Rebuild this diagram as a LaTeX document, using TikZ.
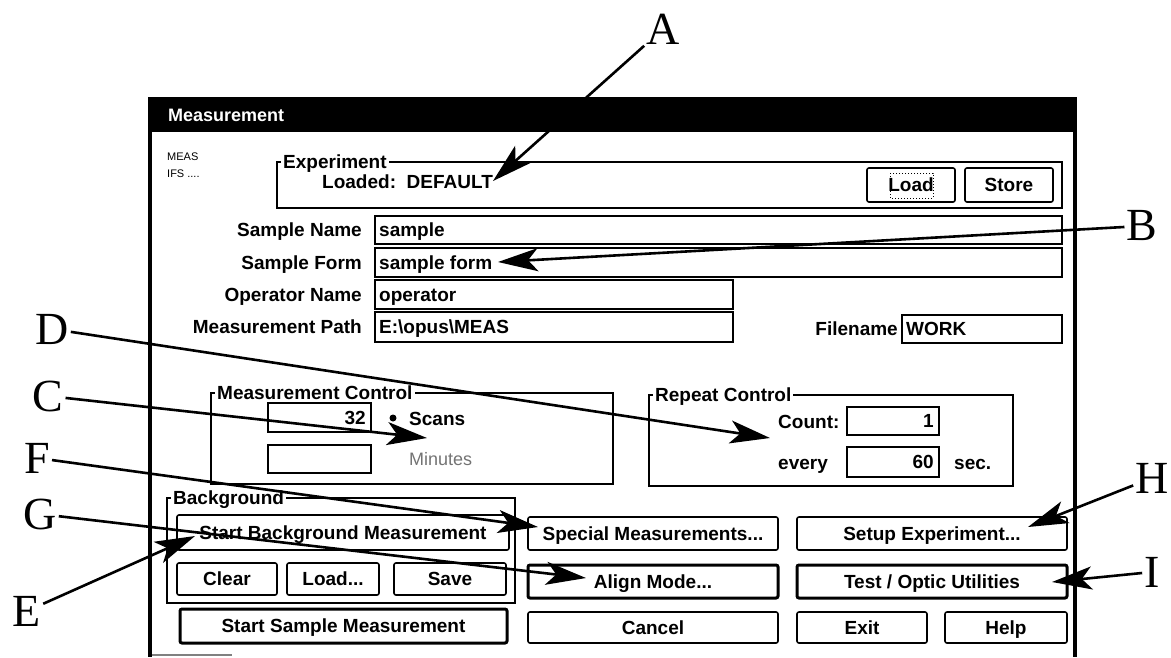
\documentclass[tikz,border=0pt]{standalone}
\usepackage{fontspec}
\newfontfamily\uifont{Liberation Sans}
\newfontfamily\callfont{Liberation Serif}
\usetikzlibrary{arrows.meta}

% rectangle node given by its corners: style, name, x1, y1, x2, y2, text
\newcommand{\uibox}[7]{%
  \node[#1, minimum width={(#5-#3)*1pt}, minimum height={(#6-#4)*1pt}]
    (#2) at ({(#3+#5)/2},{(#4+#6)/2}) {#7};}

\tikzset{
  ui/.style={font=\uifont\bfseries\fontsize{19}{22}\selectfont,
    inner sep=0pt, text height=13.6pt, text depth=0pt},
  small/.style={font=\uifont\fontsize{11}{13}\selectfont,
    inner sep=0pt, anchor=west},
  field/.style={draw, line width=1.2pt, inner sep=0pt},
  btn/.style={ui, draw, line width=1.6pt, rounded corners=2pt},
  btnheavy/.style={btn, line width=3pt},
  frame/.style={draw, line width=1.2pt},
  grouplabel/.style={ui, fill=white, inner xsep=2pt, anchor=west},
  callout/.style={font=\callfont\fontsize{46}{50}\selectfont, inner sep=2pt},
  conn/.style={line width=2.6pt, -{Stealth[length=40pt,width=23pt,inset=10pt]}},
}

\begin{document}
\begin{tikzpicture}[x=1pt,y=-1pt]
\useasboundingbox (0,0) rectangle (1171,657);

% window frame and title bar
\fill (150,97) rectangle (1075,132);
\node[ui, white, anchor=west, font=\uifont\bfseries\fontsize{18}{20}\selectfont] (title) at (168,115) {Measurement};
\draw[line width=4pt] (150,97) -- (150,657);
\draw[line width=4pt] (1075,97) -- (1075,657);
\draw[gray, line width=1.5pt] (152,655) -- (232,655);

% file info
\node[small] (meas) at (167,157) {MEAS};
\node[small] (ifs) at (167,174) {IFS ....};

% experiment group
\draw[frame] (277,162) rectangle (1062,208);
\node[grouplabel] (expl) at (281,162) {Experiment};
\node[ui, anchor=west] (loaded) at (322,182) {Loaded:\ \ DEFAULT};
\uibox{btn}{bLoad}{867}{168}{955}{202}{Load}
\draw[dotted, line width=1pt] (890,173) rectangle (933,198);
\uibox{btn}{bStore}{965}{168}{1053}{202}{Store}

% sample fields
\uibox{field}{fName}{375}{216}{1062}{244}{}
\node[ui, anchor=east] (lName) at (362,230) {Sample Name};
\node[ui, anchor=west] (vName) at (379,230) {sample};
\uibox{field}{fForm}{375}{248}{1062}{277}{}
\node[ui, anchor=east] (lForm) at (362,262.5) {Sample Form};
\node[ui, anchor=west] (vForm) at (379,262.5) {sample form};
\uibox{field}{fOper}{375}{280}{733}{309}{}
\node[ui, anchor=east] (lOper) at (362,294.5) {Operator Name};
\node[ui, anchor=west] (vOper) at (379,294.5) {operator};
\uibox{field}{fPath}{375}{312}{733}{342}{}
\node[ui, anchor=east] (lPath) at (362,327) {Measurement Path};
\node[ui, anchor=west] (vPath) at (379,327) {E:\textbackslash opus\textbackslash MEAS};
\uibox{field}{fFile}{902}{315}{1062}{343}{}
\node[ui, anchor=east] (lFile) at (898,329) {Filename};
\node[ui, anchor=west] (vFile) at (906,329) {WORK};

% measurement control group
\draw[frame] (211,393) rectangle (613,484);
\node[grouplabel] (mcl) at (215,393) {Measurement Control};
\uibox{field}{fScans}{268}{403}{371}{432}{}
\node[ui, anchor=east] (vScans) at (366,417.5) {32};
\fill (393,418) circle (3.5pt);
\node[ui, anchor=west] (lScans) at (409,419) {Scans};
\uibox{field}{fMin}{268}{445}{371}{473}{}
\node[ui, anchor=west, font=\uifont\fontsize{18}{20}\selectfont, black!55] (lMin) at (409,459) {Minutes};

% repeat control group
\draw[frame] (649,395) rectangle (1013,486);
\node[grouplabel] (rcl) at (653,395) {Repeat Control};
\node[ui, anchor=west] (lCount) at (778,422) {Count:};
\uibox{field}{fCount}{847}{407}{939}{435}{}
\node[ui, anchor=east] (vCount) at (934,421) {1};
\node[ui, anchor=west] (lEvery) at (778,463) {every};
\uibox{field}{fEvery}{847}{447}{939}{477}{}
\node[ui, anchor=east] (vEvery) at (934,462) {60};
\node[ui, anchor=west] (lSec) at (954,463) {sec.};

% background group
\draw[frame] (167,498) rectangle (515,603);
\node[grouplabel] (bgl) at (171,498) {Background};
\uibox{btn}{bStartBg}{177}{515}{509}{550}{Start Background Measurement}
\uibox{btn}{bClear}{177}{563}{277}{595}{Clear}
\uibox{btn}{bLoadBg}{287}{563}{379}{595}{Load...}
\uibox{btn}{bSave}{394}{563}{506}{595}{Save}

% command buttons
\uibox{btn}{bSpecial}{528}{517}{778}{550}{Special Measurements...}
\uibox{btn}{bSetup}{797}{517}{1067}{550}{Setup Experiment...}
\uibox{btnheavy}{bAlign}{528}{565}{778}{598}{Align Mode...}
\uibox{btnheavy}{bTest}{797}{565}{1067}{598}{Test / Optic Utilities}
\uibox{btnheavy}{bStartS}{180}{609}{507}{643}{Start Sample Measurement}
\uibox{btn}{bCancel}{528}{612}{778}{643}{Cancel}
\uibox{btn}{bExit}{797}{612}{927}{643}{Exit}
\uibox{btn}{bHelp}{945}{612}{1067}{643}{Help}

% callout letters
\node[callout] (A) at (663,29) {A};
\node[callout] (B) at (1142,226) {B};
\node[callout] (C) at (48,396) {C};
\node[callout] (D) at (52,329) {D};
\node[callout] (E) at (27,611) {E};
\node[callout] (F) at (37,458) {F};
\node[callout] (G) at (40,514) {G};
\node[callout] (H) at (1152,478) {H};
\node[callout] (I) at (1152,572) {I};

% arrow targets
\coordinate (tA) at (493,181);
\coordinate (tB) at (498,262);
\coordinate (tC) at (427,438);
\coordinate (tD) at (770,438);
\coordinate (tE) at (195,536);
\coordinate (tF) at (538,527);
\coordinate (tG) at (586,578);
\coordinate (tH) at (1028,527);
\coordinate (tI) at (1052,582);

\draw[conn] (A) -- (tA);
\draw[conn] (B) -- (tB);
\draw[conn] (C) -- (tC);
\draw[conn] (D) -- (tD);
\draw[conn] (E) -- (tE);
\draw[conn] (F) -- (tF);
\draw[conn] (G) -- (tG);
\draw[conn] (H) -- (tH);
\draw[conn] (I) -- (tI);
\end{tikzpicture}
\end{document}
